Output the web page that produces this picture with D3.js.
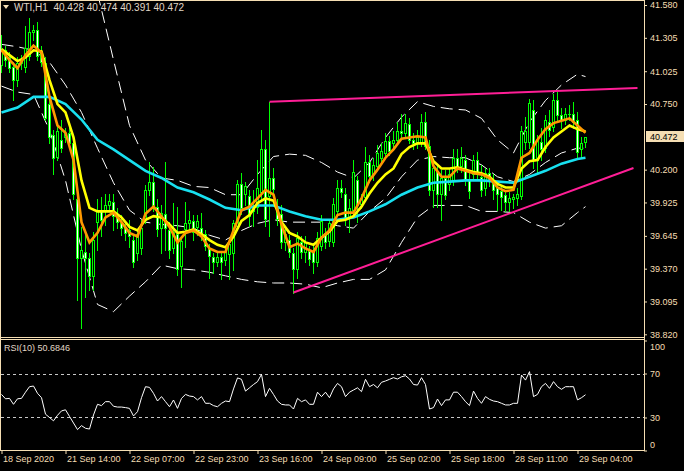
<!DOCTYPE html>
<html><head><meta charset="utf-8">
<script src="https://cdn.jsdelivr.net/npm/d3@7"></script>
<style>body{margin:0;background:#000}svg{display:block}</style>
</head><body>
<svg id="c" width="684" height="471"></svg>
<script>
// ---------- DATA ----------
const symbol = "WTI,H1";
const opens = [41.08,41.20,41.14,41.06,40.95,41.09,41.06,41.15,41.35,41.37,
41.19,41.09,40.75,40.49,40.31,40.45,40.47,40.51,40.42,39.95,
39.46,39.51,39.46,39.31,39.76,39.85,39.85,39.90,39.93,39.83,
39.75,39.72,39.69,39.61,39.50,39.54,39.78,40.03,40.10,39.89,
39.71,39.83,39.69,39.54,39.66,39.39,39.70,39.75,39.77,39.72,
39.71,39.66,39.54,39.47,39.43,39.47,39.44,39.49,39.50,39.73,
40.08,40.00,39.98,39.85,39.89,40.01,40.37,39.98,40.13,39.88,
39.83,39.59,39.61,39.50,39.37,39.59,39.51,39.52,39.51,39.43,
39.56,39.67,39.60,39.59,39.85,40.05,40.00,39.80,39.86,40.11,
39.91,39.97,40.26,40.16,40.23,40.30,40.34,40.44,40.42,40.45,
40.52,40.51,40.58,40.45,40.42,40.43,40.60,40.40,40.03,40.18,
40.00,40.13,40.08,40.11,40.30,40.23,40.28,40.11,40.16,40.28,
40.14,40.05,40.17,40.11,40.05,40.02,39.99,39.93,39.95,39.96,
39.98,40.43,40.43,40.70,40.28,40.43,40.38,40.60,40.56,40.78,
40.66,40.62,40.67,40.67,40.62,40.37,40.428];
const highs = [41.33,41.24,41.19,41.10,41.14,41.16,41.40,41.47,41.41,41.44,
41.24,41.14,40.83,40.53,40.57,40.62,40.55,40.58,40.45,39.99,
39.72,39.67,39.50,39.68,39.95,39.97,40.00,40.00,40.00,39.88,
39.82,39.76,39.78,39.65,39.69,39.78,40.07,40.26,40.22,39.95,
39.90,40.26,39.76,39.92,39.89,39.64,39.93,39.85,39.82,39.82,
39.84,39.69,39.58,39.50,39.51,39.50,39.56,39.63,39.78,40.11,
40.17,40.10,40.03,40.03,40.28,40.53,40.45,40.77,40.21,39.95,
39.90,39.71,39.65,39.54,39.68,39.64,39.64,39.56,39.56,39.68,
39.82,39.71,39.79,39.96,40.11,40.11,40.05,39.95,40.28,40.15,
40.00,40.39,40.32,40.30,40.41,40.42,40.51,40.48,40.52,40.60,
40.67,40.67,40.63,40.51,40.53,40.67,40.68,40.45,40.28,40.24,
40.20,40.20,40.21,40.37,40.37,40.39,40.32,40.18,40.32,40.35,
40.24,40.21,40.21,40.16,40.10,40.07,40.03,40.01,40.00,40.05,
40.57,40.64,40.79,40.78,40.49,40.55,40.66,40.70,40.83,40.85,
40.72,40.72,40.74,40.77,40.68,40.47,40.474];
const lows = [41.02,41.07,41.02,40.78,40.90,41.04,41.02,41.12,41.29,41.12,
41.07,40.62,40.42,40.16,40.28,40.35,40.43,40.39,39.95,39.11,
38.87,39.13,39.19,39.19,39.53,39.64,39.74,39.86,39.69,39.71,
39.65,39.61,39.55,39.38,39.44,39.49,39.75,39.99,39.85,39.64,
39.50,39.53,39.46,39.50,39.32,39.22,39.55,39.69,39.61,39.65,
39.61,39.53,39.29,39.33,39.39,39.28,39.40,39.28,39.36,39.69,
39.83,39.90,39.73,39.73,39.84,39.95,39.73,39.64,39.97,39.74,
39.54,39.53,39.47,39.17,39.29,39.46,39.43,39.40,39.33,39.39,
39.53,39.54,39.56,39.56,39.81,39.97,39.74,39.68,39.81,39.76,
39.88,39.95,40.10,40.11,40.20,40.26,40.31,40.32,40.38,40.43,
40.47,40.47,40.42,40.37,40.38,40.40,40.37,39.99,39.89,39.89,
39.78,39.95,40.03,40.07,40.18,40.18,40.07,39.96,40.11,40.11,
39.98,39.99,40.06,39.95,39.86,39.86,39.85,39.85,39.88,39.90,
39.95,40.37,40.38,40.21,40.18,40.28,40.35,40.48,40.52,40.62,
40.55,40.58,40.62,40.55,40.31,40.31,40.391];
const closes = [41.20,41.12,41.05,40.95,41.09,41.12,41.22,41.35,41.37,41.15,
41.10,40.63,40.47,40.30,40.52,40.38,40.51,40.42,40.00,39.46,
39.53,39.46,39.31,39.61,39.85,39.78,39.90,39.94,39.81,39.76,
39.71,39.67,39.64,39.43,39.66,39.71,40.03,40.10,39.90,39.70,
39.84,39.71,39.53,39.68,39.37,39.60,39.75,39.78,39.68,39.77,
39.64,39.56,39.48,39.43,39.47,39.43,39.52,39.58,39.75,40.08,
39.88,40.06,39.81,39.88,40.05,40.37,39.79,40.13,40.04,39.79,
39.59,39.66,39.51,39.37,39.63,39.51,39.59,39.45,39.43,39.63,
39.77,39.59,39.75,39.91,40.05,40.01,39.79,39.88,40.18,39.90,
39.96,40.26,40.15,40.24,40.34,40.36,40.44,40.36,40.45,40.52,
40.51,40.59,40.45,40.42,40.47,40.60,40.40,40.03,40.21,40.00,
40.13,39.99,40.16,40.30,40.22,40.30,40.11,40.02,40.28,40.18,
40.03,40.17,40.11,40.03,40.00,39.97,39.93,39.96,39.97,40.00,
40.52,40.52,40.76,40.28,40.45,40.37,40.62,40.53,40.78,40.66,
40.62,40.67,40.67,40.60,40.35,40.42,40.472];

// moving averages, read every 2 bars (bars 0,2,...,146)
const maOrange = [41.20,41.12,41.05,41.16,41.24,41.18,40.81,40.57,40.51,40.28,
39.76,39.59,39.67,39.80,39.84,39.76,39.67,39.64,39.83,39.89,
39.81,39.72,39.59,39.67,39.69,39.64,39.54,39.51,39.51,39.69,
39.86,39.89,39.96,40.03,39.99,39.74,39.55,39.58,39.54,39.51,
39.63,39.69,39.82,39.84,39.84,39.96,40.11,40.20,40.30,40.37,
40.46,40.47,40.48,40.47,40.23,40.14,40.14,40.21,40.19,40.17,
40.16,40.13,40.05,40.02,40.03,40.30,40.34,40.45,40.54,40.59,
40.61,40.63,40.57,40.51];
const maYellow = [41.21,41.16,41.11,41.14,41.20,41.19,40.95,40.75,40.68,40.47,
40.11,39.88,39.85,39.85,39.85,39.80,39.72,39.69,39.78,39.81,
39.80,39.74,39.67,39.68,39.70,39.66,39.61,39.57,39.55,39.64,
39.77,39.82,39.92,39.96,39.94,39.76,39.67,39.64,39.59,39.57,
39.63,39.68,39.77,39.78,39.81,39.89,40.00,40.09,40.16,40.21,
40.33,40.39,40.42,40.42,40.27,40.21,40.21,40.22,40.20,40.18,
40.17,40.14,40.08,40.05,40.05,40.21,40.27,40.28,40.39,40.47,
40.52,40.57,40.54,40.52];
// slow MA and Bollinger bands, read every 4 bars (0,4,...,144) plus bar 146
const maCyan = [40.68,40.72,40.81,40.81,40.75,40.62,40.45,40.37,40.28,40.19,
40.13,40.05,40.01,39.95,39.88,39.86,39.90,39.90,39.85,39.81,
39.78,39.78,39.80,39.85,39.91,39.99,40.05,40.09,40.10,40.11,
40.11,40.10,40.09,40.14,40.19,40.25,40.29,40.30];
const bbMid = [41.25,41.23,41.20,41.10,40.91,40.68,40.38,40.09,39.86,39.76,
39.74,39.73,39.71,39.65,39.61,39.69,39.75,39.78,39.76,39.76,
39.76,39.73,39.71,39.85,39.96,40.14,40.28,40.31,40.30,40.30,
40.24,40.14,40.10,40.16,40.26,40.34,40.38,40.38];
const bbUpper = [41.66,41.68,41.70,41.75,41.85,41.95,41.68,41.12,40.57,40.28,
40.13,40.11,40.06,40.05,39.99,39.99,40.16,40.31,40.33,40.32,
40.26,40.18,40.13,40.26,40.47,40.64,40.77,40.73,40.71,40.70,
40.63,40.45,40.34,40.60,40.78,40.91,41.00,40.98];
const bbLower = [40.90,40.85,40.83,40.53,40.11,39.53,39.07,39.01,39.14,39.26,
39.40,39.37,39.36,39.34,39.31,39.28,39.26,39.25,39.25,39.24,
39.21,39.25,39.28,39.28,39.36,39.59,39.80,39.90,39.90,39.90,
39.85,39.85,39.84,39.76,39.71,39.73,39.84,39.89];

// RSI(10), one value per bar
const rsi = [51,47,47.4,42,47,47.4,53,58,58.6,52,
48,33,30,27,32,36,37,31,25,19,
22.6,20.2,19.5,32.3,42,40.8,44.4,44.4,40.2,39.5,
39.5,39,38.3,31.4,35.3,48,58,57.4,52,45,
49,44.4,39.8,45.9,38.3,47.4,51,49.5,49,46,
49,42.9,42.9,40.8,39.8,42.9,45,44.4,56,66,
64.7,54,57,60,62.6,69.2,49,56.5,51,45,
42,41.4,41.4,37.7,47.4,44.4,46,42,42,53,
49,53,48,56,61,58,49,53,55,57,
53.5,64.7,58,60,57,62,63.2,64.7,66.2,65,
67,68,65,60,59.5,66.2,60,37.7,39,46.8,
40.8,46,46,53,53,49,44.4,40.8,54,47.4,
42.9,49,46.5,45,44.4,42.9,41.4,41.4,42.9,42.9,
68.6,64,71.7,49,51,58,61,56.5,62.6,58,
55.6,58,58,58,46,48,50.6846];

// trend lines: [bar index, price]
const trendUpper = [[67,40.77],[159,40.885]];
const trendLower = [[73,39.17],[158,40.214]];

// axes
const priceTicks = [41.580,41.305,41.025,40.750,40.200,39.925,39.645,39.370,39.095,38.820];
const rsiTicks = [100,70,30,0];
const rsiLevels = [70,30];
const timeTicks = [0,16,32,48,64,80,96,112,128,144];
const timeLabels = ["18 Sep 2020","21 Sep 14:00","22 Sep 07:00","22 Sep 23:00","23 Sep 16:00",
  "24 Sep 09:00","25 Sep 02:00","25 Sep 18:00","28 Sep 11:00","29 Sep 04:00"];

// ---------- DRAWING ----------
const FG = "#f5deb3", LIME = "#00ff00";
const FONT = "9px 'Liberation Sans', Arial, sans-serif";
const HFONT = "10px 'Liberation Sans', Arial, sans-serif";
const svg = d3.select("#c");
svg.append("rect").attr("width",684).attr("height",471).attr("fill","#000");

const x = d3.scaleLinear().domain([0,1]).range([1.5,5.5]);
const y = d3.scaleLinear().domain([38.82,41.58]).range([334.3,5]);
const yr = d3.scaleLinear().domain([0,100]).range([450.5,340.5]);

const defs = svg.append("defs");
defs.append("clipPath").attr("id","cm").append("rect").attr("x",1).attr("y",1).attr("width",643).attr("height",336);
defs.append("clipPath").attr("id","cr").append("rect").attr("x",1).attr("y",340).attr("width",643).attr("height",110);

const gm = svg.append("g").attr("clip-path","url(#cm)");

const idx2 = d3.range(0,147,2);
const idx4 = d3.range(0,145,4).concat([146]);

// Bollinger bands (white dashed)
[bbUpper,bbMid,bbLower].forEach(arr=>{
  gm.append("path").datum(arr)
    .attr("d", d3.line().x((d,k)=>x(idx4[k])).y(d=>y(d)))
    .attr("fill","none").attr("stroke","#ffffff").attr("stroke-width",1)
    .attr("stroke-dasharray","12,6");
});

// candles
const idx = d3.range(closes.length);
const cg = gm.append("g").attr("shape-rendering","crispEdges");
cg.selectAll("rect.w").data(idx).join("rect").attr("class","w")
  .attr("x",i=>Math.round(x(i)-0.5)).attr("width",1)
  .attr("y",i=>Math.round(y(highs[i])))
  .attr("height",i=>Math.max(1,Math.round(y(lows[i]))-Math.round(y(highs[i]))+1))
  .attr("fill",LIME);
const bodyTop = i=>Math.round(y(Math.max(opens[i],closes[i])));
const bodyH = i=>Math.max(1,Math.round(y(Math.min(opens[i],closes[i])))-bodyTop(i)+1);
cg.selectAll("rect.b").data(idx).join("rect").attr("class","b")
  .attr("x",i=>Math.round(x(i)-1.5)).attr("width",3)
  .attr("y",bodyTop).attr("height",bodyH).attr("fill",LIME);
cg.selectAll("rect.f").data(idx.filter(i=>bodyH(i)>2)).join("rect").attr("class","f")
  .attr("x",i=>Math.round(x(i)-0.5)).attr("width",1)
  .attr("y",i=>bodyTop(i)+1).attr("height",i=>bodyH(i)-2)
  .attr("fill",i=>closes[i]>=opens[i]?"#000":"#fff");

// moving averages
gm.append("path").datum(maCyan)
  .attr("d",d3.line().x((d,k)=>x(idx4[k])).y(d=>y(d)))
  .attr("fill","none").attr("stroke","#18e0f0").attr("stroke-width",2.6);
gm.append("path").datum(maYellow)
  .attr("d",d3.line().x((d,k)=>x(idx2[k])).y(d=>y(d)))
  .attr("fill","none").attr("stroke","#ffff00").attr("stroke-width",2.6);
gm.append("path").datum(maOrange)
  .attr("d",d3.line().x((d,k)=>x(idx2[k])).y(d=>y(d)))
  .attr("fill","none").attr("stroke","#ff9800").attr("stroke-width",2.6);

// trend lines
[trendUpper,trendLower].forEach(t=>{
  gm.append("path").datum(t)
    .attr("d",d3.line().x(d=>x(d[0])).y(d=>y(d[1])))
    .attr("fill","none").attr("stroke","#ff1e96").attr("stroke-width",2);
});

// header
svg.append("path").attr("d","M3,5 L9,5 L6,9 Z").attr("fill",FG);
const last = closes.length-1;
svg.append("text").attr("x",14).attr("y",10.5).style("font",HFONT).attr("fill","#e0d8c8")
  .attr("xml:space","preserve").style("white-space","pre")
  .text(symbol+"  "+[opens[last],highs[last],lows[last],closes[last]].map(d3.format(".3f")).join(" "));

// RSI panel
const gr = svg.append("g").attr("clip-path","url(#cr)");
rsiLevels.forEach(v=>{
  gr.append("line").attr("x1",1).attr("x2",644).attr("y1",Math.round(yr(v))+0.5).attr("y2",Math.round(yr(v))+0.5)
    .attr("stroke","#c8c8c8").attr("stroke-dasharray","3,3");
});
gr.append("path").datum(rsi)
  .attr("d",d3.line().x((d,i)=>x(i)).y(d=>yr(d)))
  .attr("fill","none").attr("stroke","#ffffff").attr("stroke-width",1);
svg.append("text").attr("x",4).attr("y",351).style("font",FONT).attr("fill","#e0d8c8")
  .text("RSI(10) "+d3.format(".4f")(rsi[rsi.length-1]));

// frames
const fr = svg.append("g").attr("stroke",FG).attr("fill","none").attr("shape-rendering","crispEdges");
fr.append("line").attr("x1",0.5).attr("x2",644.5).attr("y1",0.5).attr("y2",0.5);
fr.append("line").attr("x1",0.5).attr("x2",644.5).attr("y1",337.5).attr("y2",337.5);
fr.append("line").attr("x1",0.5).attr("x2",644.5).attr("y1",339.5).attr("y2",339.5);
fr.append("line").attr("x1",0.5).attr("x2",644.5).attr("y1",450.5).attr("y2",450.5);
fr.append("line").attr("x1",0.5).attr("x2",0.5).attr("y1",0).attr("y2",451);
fr.append("line").attr("x1",644.5).attr("x2",644.5).attr("y1",0).attr("y2",451);

// price axis
const pa = svg.append("g").attr("transform","translate(644,0)")
  .call(d3.axisRight(y).tickValues(priceTicks).tickFormat(d3.format(".3f")).tickSize(3).tickPadding(3));
pa.select(".domain").remove();
pa.selectAll("line").attr("stroke",FG);
pa.selectAll("text").attr("fill",FG).style("font",FONT);

// current price box
const cp = closes[last];
svg.append("rect").attr("x",646).attr("y",Math.round(y(cp))-6).attr("width",38).attr("height",11).attr("fill",FG);
svg.append("text").attr("x",650).attr("y",y(cp)).attr("dy","0.35em").style("font",FONT).attr("fill","#000")
  .text(d3.format(".3f")(cp));

// RSI axis
const ra = svg.append("g").attr("transform","translate(644,0)")
  .call(d3.axisRight(yr).tickValues(rsiTicks).tickSize(3).tickPadding(3));
ra.select(".domain").remove();
ra.selectAll("line").attr("stroke",FG);
ra.selectAll("text").attr("fill",FG).style("font",FONT)
  .attr("y",d=>d===100?6:(d===0?-6:0));

// time axis
const ta = svg.append("g").attr("transform","translate(0,450)")
  .call(d3.axisBottom(x).tickValues(timeTicks).tickFormat((d,i)=>timeLabels[i]).tickSize(4).tickPadding(2));
ta.select(".domain").remove();
ta.selectAll("line").attr("stroke",FG);
ta.selectAll("text").attr("fill",FG).style("font",FONT).attr("text-anchor","start").attr("dx",1);
</script>
</body></html>
